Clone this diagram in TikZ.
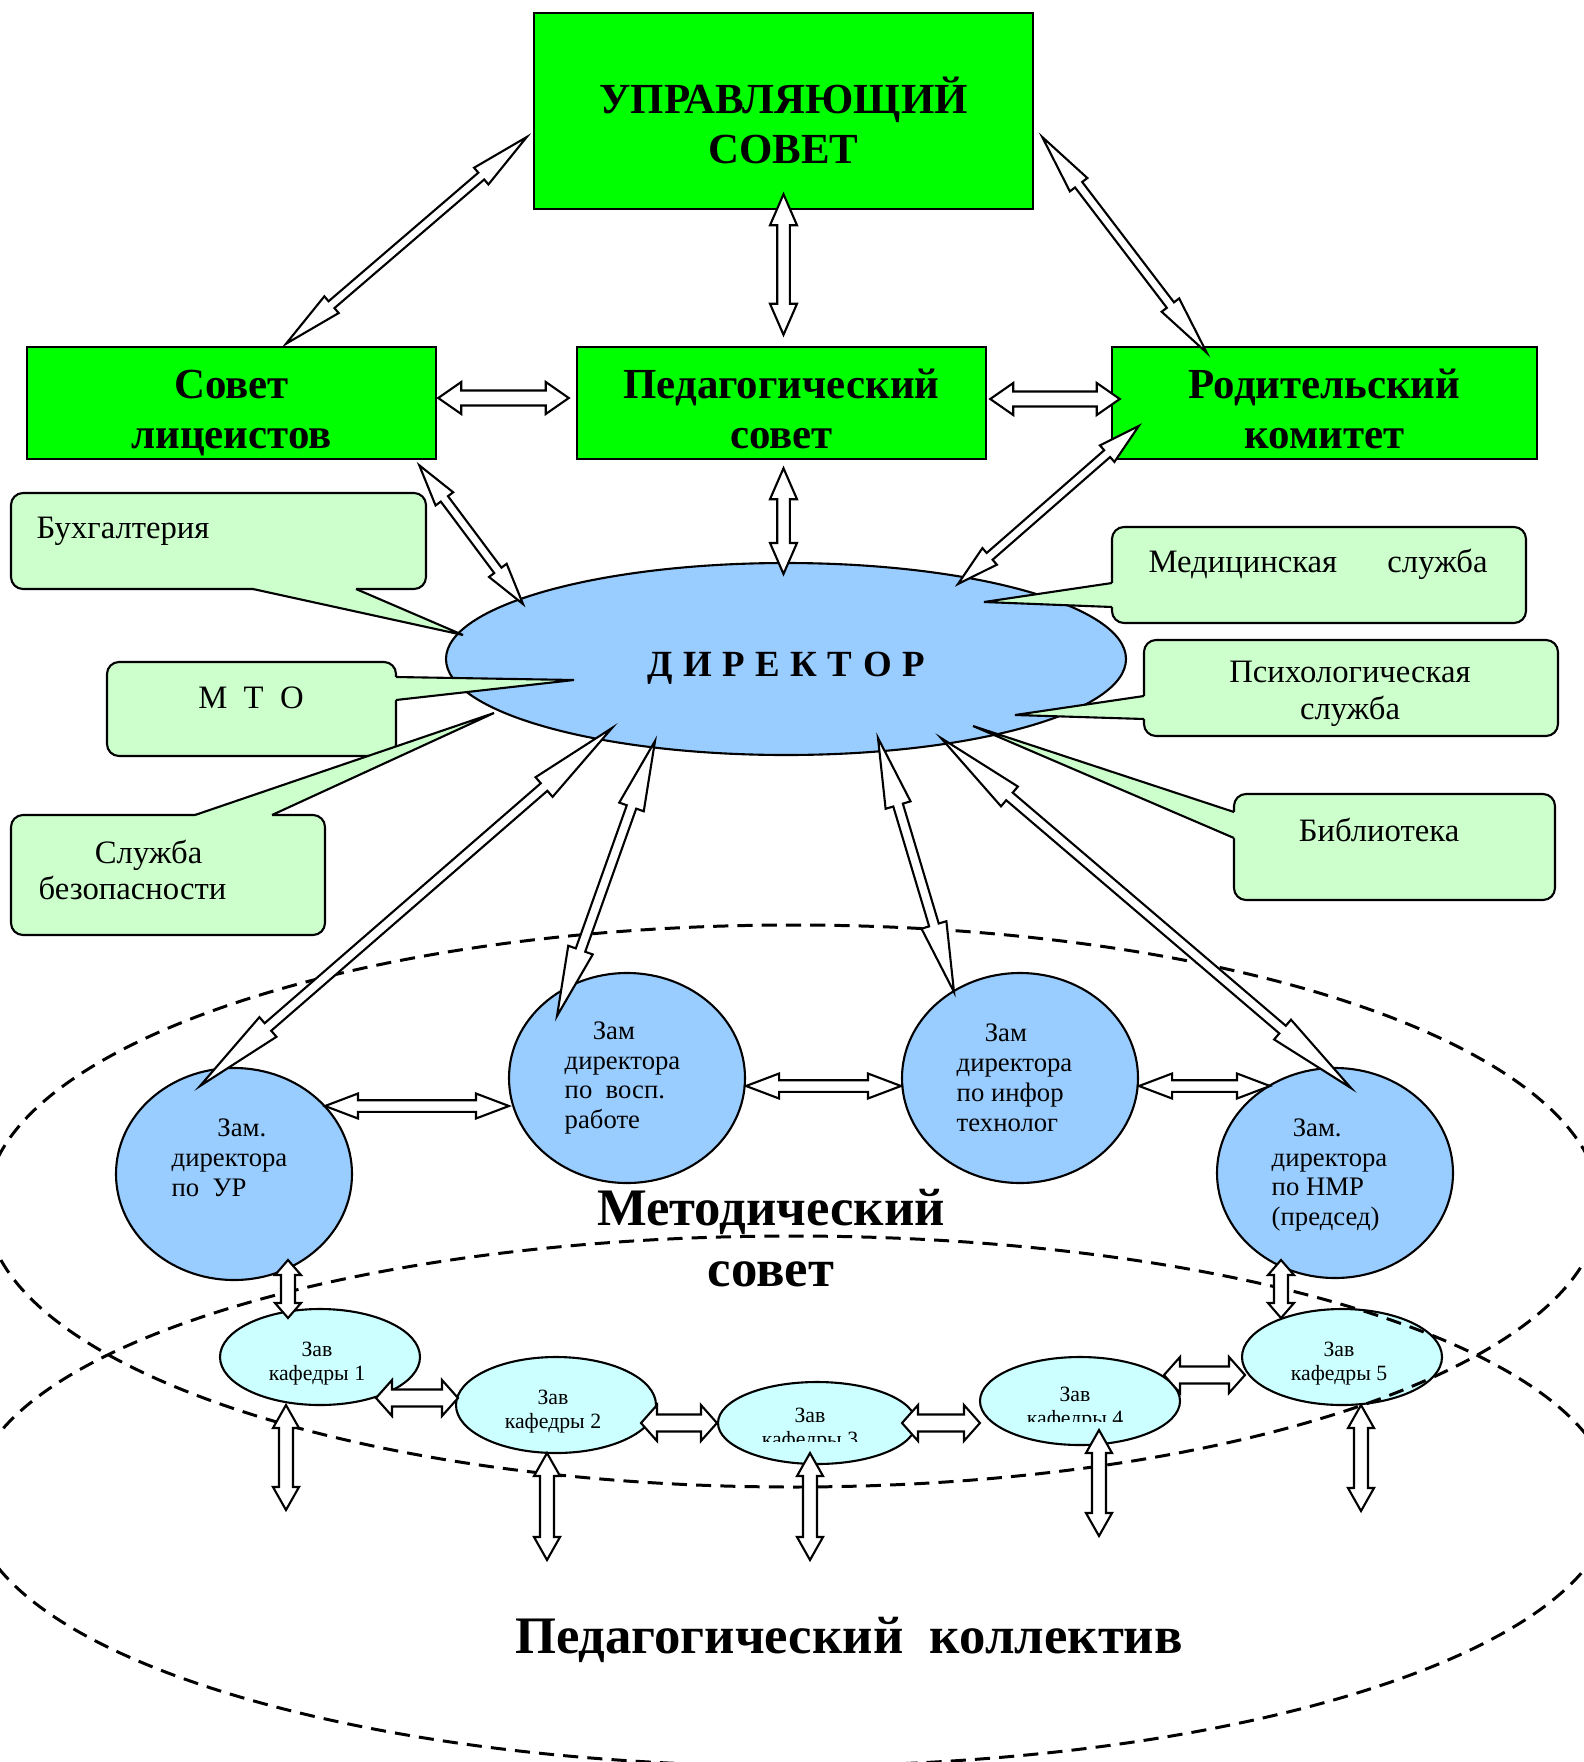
\documentclass[tikz,border=0pt]{standalone}
\usepackage{fontspec}
\setmainfont{Liberation Serif}
\usetikzlibrary{shapes.geometric, calc}

\definecolor{boardgreen}{HTML}{00FF00}
\definecolor{notegreen}{HTML}{CCFFCC}
\definecolor{headblue}{HTML}{99CCFF}
\definecolor{chairblue}{HTML}{CCFFFF}

\tikzset{board/.style={rectangle, draw, line width=0.7pt, fill=boardgreen, inner sep=0pt}}
\tikzset{boardtext/.style={align=center, inner sep=0pt, font=\fontsize{12.2}{14.2}\selectfont\bfseries}}
\tikzset{chief/.style={ellipse, draw, line width=0.6pt, fill=headblue, inner sep=0pt,
    minimum width=68mm, minimum height=19.2mm}}
\tikzset{chieftext/.style={inner sep=0pt, font=\fontsize{10.5}{12}\selectfont\bfseries}}
\tikzset{deputy/.style={ellipse, draw, line width=0.6pt, fill=headblue, inner sep=0pt,
    minimum width=23.6mm, minimum height=21mm}}
\tikzset{deputytext/.style={anchor=west, align=left, inner sep=0pt, font=\fontsize{7.6}{8.5}\selectfont}}
\tikzset{chair/.style={ellipse, draw, line width=0.6pt, fill=chairblue, inner sep=0pt,
    minimum width=20mm, minimum height=9.6mm}}
\tikzset{chairtext/.style={align=center, inner sep=0pt, font=\fontsize{6.2}{6.8}\selectfont}}
\tikzset{note/.style={rectangle, rounded corners=1.2mm, draw, line width=0.6pt, fill=notegreen, inner sep=0pt}}
\tikzset{notetext/.style={align=center, inner sep=0pt, font=\fontsize{9.3}{10.4}\selectfont}}
\tikzset{ring/.style={draw, line width=0.85pt, dash pattern=on 4.3pt off 2.6pt}}
\tikzset{bigtext/.style={align=center, inner sep=0pt, font=\fontsize{15}{17.4}\selectfont\bfseries}}

\tikzset{bidir/.cd,
  head/.store in=\bdhead, wide/.store in=\bdwide, shaft/.store in=\bdshaft,
  head=3mm, wide=1.3mm, shaft=0.6mm,
  tilt/.style={head=6mm, wide=1.1mm, shaft=0.45mm},
  tiltshort/.style={head=4.2mm, wide=1.1mm, shaft=0.45mm},
  upright/.style={head=3.1mm, wide=1.35mm, shaft=0.63mm},
  level/.style={head=2.3mm, wide=1.6mm, shaft=0.75mm},
  spoke/.style={head=9mm, wide=1.3mm, shaft=0.5mm},
  spokeshort/.style={head=7mm, wide=1.3mm, shaft=0.5mm},
  link/.style={head=3.3mm, wide=1.25mm, shaft=0.58mm},
  stem/.style={head=1.5mm, wide=1.3mm, shaft=0.7mm},
  chain/.style={head=1.6mm, wide=1.8mm, shaft=0.85mm},
  drop/.style={head=2.3mm, wide=1.3mm, shaft=0.7mm}}

% hollow two-headed block arrow
\newcommand{\bidir}[3][]{%
  \begingroup
  \tikzset{bidir/.cd, #1}%
  \coordinate (bd-a) at (#2);
  \coordinate (bd-b) at (#3);
  \coordinate (bd-p) at ($(bd-a)!\bdhead!(bd-b)$);
  \coordinate (bd-q) at ($(bd-b)!\bdhead!(bd-a)$);
  \filldraw[fill=white, line width=0.6pt]
    (bd-a) -- ($(bd-p)!\bdwide!90:(bd-b)$) -- ($(bd-p)!\bdshaft!90:(bd-b)$)
    -- ($(bd-q)!\bdshaft!-90:(bd-a)$) -- ($(bd-q)!\bdwide!-90:(bd-a)$)
    -- (bd-b) -- ($(bd-q)!\bdwide!90:(bd-a)$) -- ($(bd-q)!\bdshaft!90:(bd-a)$)
    -- ($(bd-p)!\bdshaft!-90:(bd-b)$) -- ($(bd-p)!\bdwide!-90:(bd-b)$) -- cycle;
  \endgroup}

\newcommand{\calltail}[4]{%
  \fill[notegreen] ($#1+#4$) -- #1 -- (#3) -- #2 -- ($#2+#4$) -- cycle;
  \draw[line width=0.6pt] #1 -- (#3) -- #2;}

\begin{document}
\begin{tikzpicture}[x=0.1mm, y=-0.1mm]
    \clip (0,0) rectangle (1584,1762);

    \node [board, minimum width=49.9mm, minimum height=19.6mm] (board) at (783.5,111) {};
    \node [board, minimum width=40.9mm, minimum height=11.2mm] (lyc) at (231.5,403) {};
    \node [board, minimum width=40.9mm, minimum height=11.2mm] (ped) at (781.5,403) {};
    \node [board, minimum width=42.5mm, minimum height=11.2mm] (par) at (1324.5,403) {};
    \node [boardtext] (boardtxt) at ($(board)+(0,9)$) {УПРАВЛЯЮЩИЙ\\СОВЕТ};
    \node [boardtext] (lyctxt) at ($(lyc)+(0,10)$) {Совет\\лицеистов};
    \node [boardtext] (pedtxt) at ($(ped)+(0,6)$) {Педагогический\\совет};
    \node [boardtext] (partxt) at ($(par)+(0,6)$) {Родительский\\комитет};

    \node [chief] (dir) at (786,659) {};
    \node [chieftext] (dirtxt) at ($(dir)+(0,9)$) {Д\hspace{3pt}И\hspace{3pt}Р\hspace{3pt}Е\hspace{3pt}К\hspace{3pt}Т\hspace{3pt}О\hspace{3pt}Р};

    \node [deputy, minimum height=21.2mm] (zur) at (234,1174) {};
    \node [deputy] (zvr) at (627,1078) {};
    \node [deputy] (zit) at (1020,1078) {};
    \node [deputy] (znm) at (1335,1173) {};
    \node [deputytext] (zurtxt) at (171,1158) {\hspace*{13pt}Зам.\\директора\\по~~УР};
    \node [deputytext] (zvrtxt) at (564,1078) {\hspace*{8pt}Зам\\директора\\по~~восп.\\работе};
    \node [deputytext] (zittxt) at (956,1078) {\hspace*{8pt}Зам\\директора\\по инфор\\технолог};
    \node [deputytext] (znmtxt) at (1271,1175) {\hspace*{6pt}Зам.\\директора\\по НМР\\(председ)};

    \node [chair] (kaf1) at (320,1357) {};
    \node [chair] (kaf2) at (556,1405) {};
    \node [chair, minimum width=19.8mm, minimum height=8.2mm] (kaf3) at (817,1423) {};
    \node [chair, minimum height=8.8mm] (kaf4) at (1080,1401) {};
    \node [chair] (kaf5) at (1342,1357) {};
    \node [chairtext] (kaf1txt) at (317,1364) {Зав\\кафедры 1};
    \node [chairtext] (kaf2txt) at (553,1412) {Зав\\кафедры 2};
    \node [chairtext] (kaf5txt) at (1339,1364) {Зав\\кафедры 5};
    \begin{scope}
      \clip (700,1395) rectangle (935,1441);
      \node [chairtext] (kaf3txt) at (810,1430) {Зав\\кафедры 3};
    \end{scope}
    \begin{scope}
      \clip (960,1370) rectangle (1200,1421);
      \node [chairtext] (kaf4txt) at (1075,1409) {Зав\\кафедры 4};
    \end{scope}

    \draw [ring] (793,1206) ellipse [x radius=80.7mm, y radius=28.1mm];
    \draw [ring] (792,1501) ellipse [x radius=82mm, y radius=26.5mm];

    \node [bigtext] (metod) at (771,1238) {Методический\\совет};
    \node [bigtext] (staff) at (849,1640) {Педагогический~~коллектив};

    \bidir[tilt]{$(lyc.north)+(54.5,-2)$}{$(board.west)+(-6,26)$}
    \bidir[upright]{$(board.south)+(0,-16)$}{$(board.south |- ped.north)+(0,-11)$}
    \bidir[tilt]{$(board.east)+(8,26)$}{$(par.north west)+(96,7)$}
    \bidir[level]{$(lyc.east)+(1,-5)$}{$(ped.west)+(-7,-5)$}
    \bidir[level]{$(ped.east)+(3,-4)$}{$(par.west)+(9,-4)$}
    \bidir[tiltshort]{$(lyc.south east)+(-18,5)$}{$(dir)+(-263,-55)$}
    \bidir[upright]{$(board.south |- ped.south)+(0,8)$}{$(board.south |- dir.north)+(0,12)$}
    \bidir[tiltshort]{$(par.west)+(28,23)$}{$(dir)+(172,-75)$}

    \bidir[spoke]{$(dir)+(-174,69)$}{$(zur)+(-34,-88)$}
    \bidir[spokeshort]{$(dir)+(-131,82)$}{$(zvr)+(-70,-62)$}
    \bidir[spokeshort]{$(dir)+(92,79)$}{$(zit)+(-66,-86)$}
    \bidir[spoke]{$(dir)+(155,79)$}{$(znm)+(16,-85)$}

    \bidir[link]{$(zur)+(91,-68)$}{$(zvr.west)+(1,28)$}
    \bidir[link]{$(zvr.east)+(0,8)$}{$(zit.west)+(0,8)$}
    \bidir[link]{$(zit.east)+(0,8)$}{$(znm)+(-65,-87)$}

    \bidir[stem]{$(zur)+(54,86)$}{$(kaf1)+(-32,-39)$}
    \bidir[stem]{$(znm)+(-54,87)$}{$(kaf5)+(-61,-39)$}

    \bidir[chain]{$(kaf1)+(56,41)$}{$(kaf2)+(-98,-7)$}
    \bidir[chain]{$(kaf2)+(85,18)$}{kaf3.west}
    \bidir[chain]{$(kaf3)+(85,0)$}{$(kaf4.west)+(1,22)$}
    \bidir[chain]{$(kaf4)+(84,-26)$}{$(kaf5)+(-97,18)$}

    \coordinate (drop1) at (286,1510);
    \coordinate (drop2) at (547,1560);
    \coordinate (drop3) at (810,1560);
    \coordinate (drop4) at (1099,1536);
    \coordinate (drop5) at (1361,1511);
    \bidir[drop]{$(kaf1)+(-34,48)$}{drop1}
    \bidir[drop]{$(kaf2)+(-9,48)$}{drop2}
    \bidir[drop]{$(kaf3)+(-7,30)$}{drop3}
    \bidir[drop]{$(kaf4)+(19,29)$}{drop4}
    \bidir[drop]{$(kaf5)+(19,48)$}{drop5}

    \node [note, minimum width=41.5mm, minimum height=9.6mm] (buh) at (218.5,541) {};
    \node [note, minimum width=28.9mm, minimum height=9.4mm] (mto) at (251.5,709) {};
    \node [note, minimum width=31.4mm, minimum height=12mm] (sec) at (168,875) {};
    \node [note, minimum width=41.4mm, minimum height=9.6mm] (med) at (1319,575) {};
    \node [note, minimum width=41.4mm, minimum height=9.6mm] (psy) at (1351,688) {};
    \node [note, minimum width=32.1mm, minimum height=10.6mm] (bib) at (1394.5,847) {};

    \coordinate (buhtip) at (463,635);
    \coordinate (mtotip) at (574,680);
    \coordinate (sectip) at (494,713);
    \coordinate (medtip) at (984,602);
    \coordinate (psytip) at (1015,715);
    \coordinate (bibtip) at (973,726);
    \calltail{(253,589)}{(356,589)}{buhtip}{(0,-3)}
    \calltail{(396,677)}{(396,700)}{mtotip}{(-3,0)}
    \calltail{(195,815)}{(272,815)}{sectip}{(0,3)}
    \calltail{(1112,583)}{(1112,607)}{medtip}{(3,0)}
    \calltail{(1144,696)}{(1144,719)}{psytip}{(3,0)}
    \calltail{(1234,812)}{(1234,838)}{bibtip}{(3,0)}

    \node [notetext, anchor=west] (buhtxt) at (36,531) {Бухгалтерия};
    \node [notetext] (mtotxt) at (251,698) {М~~Т~~О};
    \node [notetext, anchor=west, align=left] (sectxt) at (38,870) {\hspace*{16pt}Служба\\безопасности};
    \node [notetext] (medtxt) at (1318,564) {\makebox[33.9mm]{Медицинская\hfill служба}};
    \node [notetext] (psytxt) at (1350,694) {Психологическая\\служба};
    \node [notetext] (bibtxt) at (1379,830) {Библиотека};
\end{tikzpicture}
\end{document}
